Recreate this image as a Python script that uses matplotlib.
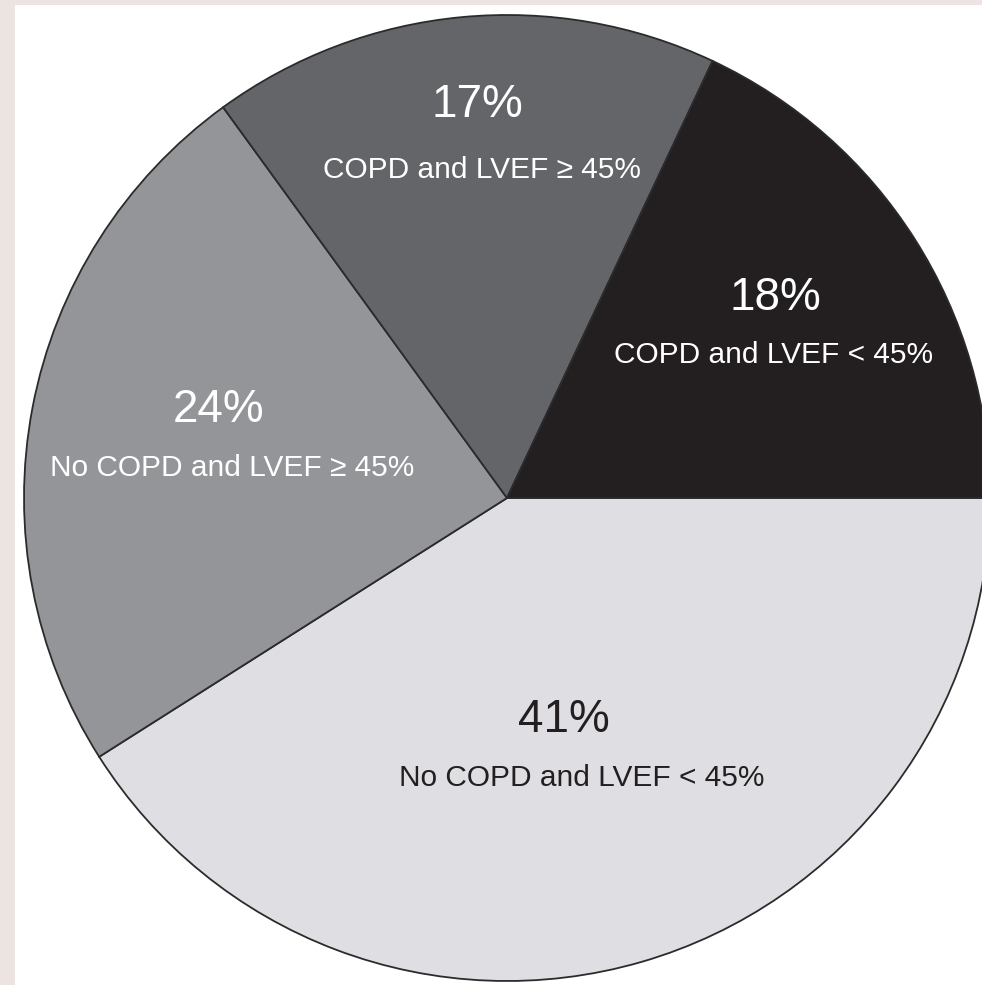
import matplotlib
matplotlib.use("Agg")
import matplotlib.pyplot as plt
from matplotlib.patches import Rectangle

# shares of patients, drawn clockwise starting at 3 o'clock
shares = [41, 24, 17, 18]
pct_labels = ["41%", "24%", "17%", "18%"]
descriptions = [
    "No COPD and LVEF < 45%",
    "No COPD and LVEF \u2265 45%",
    "COPD and LVEF \u2265 45%",
    "COPD and LVEF < 45%",
]
colors = ["#dfdfe3", "#939598", "#636568", "#231f20"]
text_colors = ["#231f20", "white", "white", "white"]

# label anchor points inside each wedge (axes data units, radius = 1)
label_pos = [(0.118, -0.460), (-0.598, 0.182), (-0.062, 0.814), (0.555, 0.414)]
desc_pos = [(0.155, -0.580), (-0.568, 0.062), (-0.052, 0.679), (0.551, 0.296)]

W, H = 982, 985
fig = plt.figure(figsize=(W / 100, H / 100), dpi=100)
fig.patch.set_facecolor("#ebe4e1")
fig.patches.append(Rectangle((15 / W, 0), 1, 1 - 5 / H, transform=fig.transFigure,
                             facecolor="white", edgecolor="none", zorder=-10))

cx, cy, r = 507, 498, 483
ax = fig.add_axes([(cx - r) / W, (H - cy - r) / H, 2 * r / W, 2 * r / H])
ax.pie(shares, colors=colors, startangle=0, counterclock=False, radius=1,
       wedgeprops=dict(edgecolor="#2b2b2b", linewidth=1.3), frame=False)
ax.set_xlim(-1, 1)
ax.set_ylim(-1, 1)
ax.set_aspect("auto")
ax.axis("off")

font = ["Liberation Sans", "DejaVu Sans"]
for p, d, lp, dp, tc in zip(pct_labels, descriptions, label_pos, desc_pos, text_colors):
    ax.text(lp[0], lp[1], p, ha="center", va="center", color=tc,
            fontsize=33, family=font)
    ax.text(dp[0], dp[1], d, ha="center", va="center", color=tc,
            fontsize=21.5, family=font)

fig.savefig("out.png", dpi=100, facecolor=fig.get_facecolor())
